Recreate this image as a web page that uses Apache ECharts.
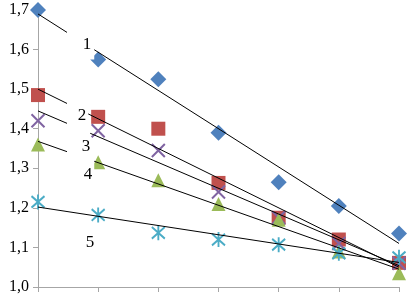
<!DOCTYPE html>
<html><head><meta charset="utf-8">
<script src="https://cdn.jsdelivr.net/npm/echarts@6/dist/echarts.min.js"></script>
<style>html,body{margin:0;padding:0;background:#fff}#c{width:408px;height:298px}</style>
</head><body><div id="c"></div>
<script>
var xs = [0, 1, 2, 3, 4, 5, 6];
var s1 = [1.70, 1.575, 1.525, 1.39, 1.265, 1.205, 1.135];
var s2 = [1.485, 1.43, 1.40, 1.263, 1.175, 1.12, 1.061];
var s3 = [1.42, 1.395, 1.345, 1.24, 1.175, 1.11, 1.06];
var s4 = [1.36, 1.315, 1.27, 1.21, 1.17, 1.09, 1.035];
var s5 = [1.215, 1.182, 1.137, 1.12, 1.107, 1.085, 1.075];
var trendStart = [1.69, 1.50, 1.445, 1.368, 1.202];
var trendEnd = [1.11, 1.05, 1.054, 1.045, 1.062];
var seriesNames = ['1', '2', '3', '4', '5'];
var yTicks = ['1,0', '1,1', '1,2', '1,3', '1,4', '1,5', '1,6', '1,7'];

var colors = ['#4F81BD', '#C0504D', '#8064A2', '#9BBB59', '#4BACC6'];
var symbols = ['diamond', 'rect', 'path://M0,0L10,10M10,0L0,10', 'triangle', 'path://M0,0L10,10M10,0L0,10M5,-1.5L5,11.5'];
var sizes = [[16, 16], [14, 14], [13, 13], [14, 14], [13, 15]];
var stroked = [false, false, true, false, true];
var allVals = [s1, s2, s3, s4, s5];

var series = [];
allVals.forEach(function (vals, i) {
  series.push({
    type: 'scatter', name: seriesNames[i],
    data: xs.map(function (x, k) { return [x, vals[k]]; }),
    symbol: symbols[i], symbolSize: sizes[i], z: 2,
    itemStyle: stroked[i] ? { color: 'rgba(0,0,0,0)', borderColor: colors[i], borderWidth: 2, opacity: 1 } : { color: colors[i], opacity: 1 },
    emphasis: { disabled: true }
  });
});
allVals.forEach(function (vals, i) {
  series.push({
    type: 'line', z: 5, symbol: 'none', silent: true,
    data: [[xs[0], trendStart[i]], [xs[xs.length - 1], trendEnd[i]]],
    lineStyle: { color: '#000', width: 1 }
  });
});

// label boxes: [left, top] of the white box; padding [top, right, bottom, left]
var labelBox = [[67, 30], [67, 100], [67, 125], [68, 152], [80, 230]];
var labelPad = [[6.5, 3, 6, 15.75], [7.5, 2, 3, 10.75], [13.5, 0, 4, 14.75], [14.5, 2, 3, 15.75], [4.5, 6, 4, 5.75]];
var graphics = seriesNames.map(function (n, i) {
  return {
    type: 'text', x: labelBox[i][0], y: labelBox[i][1], z: 100,
    style: { text: n, font: '17px "Liberation Serif"', fill: '#000', align: 'left', verticalAlign: 'top', lineHeight: 17, backgroundColor: '#fff', padding: labelPad[i] }
  };
});

var chart = echarts.init(document.getElementById('c'));
chart.setOption({
  animation: false,
  backgroundColor: '#fff',
  grid: { left: 38, right: 9, top: 10, bottom: 11, containLabel: false },
  xAxis: {
    type: 'value', min: 0, max: 6, interval: 1,
    axisLine: { show: true, lineStyle: { color: '#a6a6a6', width: 1 } },
    axisTick: { show: true, length: 5, inside: false, lineStyle: { color: '#a6a6a6' } },
    axisLabel: { show: false }, splitLine: { show: false }
  },
  yAxis: {
    type: 'value', min: 1.0, max: 1.7, interval: 0.1,
    axisLine: { show: true, onZero: false, lineStyle: { color: '#a6a6a6', width: 1 } },
    axisTick: { show: true, length: 5, lineStyle: { color: '#a6a6a6' } },
    axisLabel: {
      margin: 9, color: '#000', fontFamily: 'Liberation Serif', fontSize: 16,
      formatter: function (v) { return yTicks[Math.round((v - 1.0) * 10)]; }
    },
    splitLine: { show: false }
  },
  series: series,
  graphic: graphics
});
</script></body></html>
